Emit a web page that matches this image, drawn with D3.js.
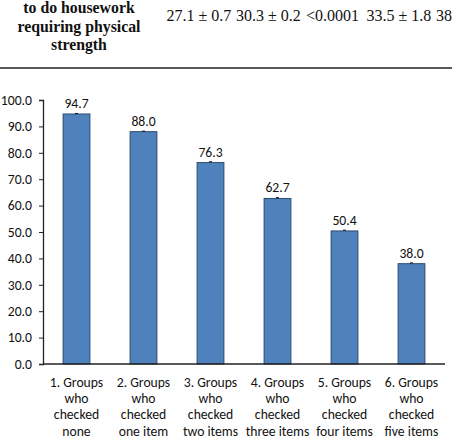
<!DOCTYPE html>
<html><head><meta charset="utf-8">
<script src="https://cdn.jsdelivr.net/npm/d3@7"></script>
<style>body{margin:0;background:#fff}svg{display:block}</style>
</head><body>
<svg id="c" width="452" height="446"></svg>
<script>
const categories = [
  ["1. Groups","who","checked","none"],
  ["2. Groups","who","checked","one item"],
  ["3. Groups","who","checked","two items"],
  ["4. Groups","who","checked","three items"],
  ["5. Groups","who","checked","four items"],
  ["6. Groups","who","checked","five items"]
];
const values = [94.7, 88.0, 76.3, 62.7, 50.4, 38.0];
const errors = [0.2, 0.2, 0.3, 0.3, 0.3, 0.3];
const yTicks = [0,10,20,30,40,50,60,70,80,90,100];
const headerLines = ["to do housework","requiring physical","strength"];
const headerValues = ["27.1 ± 0.7","30.3 ± 0.2","<0.0001","33.5 ± 1.8","38"];
const headerValueX = [166.5, 236, 306, 366.5, 436];

const svg = d3.select("#c");

function measure(txt, fam, size, weight){
  const t = svg.append("text").attr("font-family",fam).attr("font-size",size)
    .attr("font-weight",weight||"normal").text(txt);
  const w = t.node().getComputedTextLength(); t.remove(); return w;
}
function pick(cands, generic){
  const probe = "mmmwwwiiilll 0123456789 Groups";
  for (const c of cands){
    const a = measure(probe, `"${c}", monospace`, 40);
    const b = measure(probe, "monospace", 40);
    const a2 = measure(probe, `"${c}", sans-serif`, 40);
    const b2 = measure(probe, "sans-serif", 40);
    if (Math.abs(a-b)>0.5 || Math.abs(a2-b2)>0.5) return `"${c}", ${generic}`;
  }
  return generic;
}
const serifFam = pick(["Liberation Serif","Times New Roman","Tinos","Nimbus Roman","DejaVu Serif","Noto Serif"], "serif");
const sansFam = pick(["Carlito","Calibri","Lato","Open Sans"], "sans-serif");

const sFs = 100 * 53.5 / measure("1. Groups", sansFam, 100);
const hFs = Math.min(16, 100 * 123 / measure("requiring physical", serifFam, 100, "bold"));
const vFs = Math.min(16, 100 * 65 / measure("27.1 ± 0.7", serifFam, 100));

// table fragment at top
const hb = [13.3, 31.7, 49.5];
headerLines.forEach((t,i)=>{
  svg.append("text").attr("x",79).attr("y",hb[i]).attr("text-anchor","middle")
    .attr("font-family",serifFam).attr("font-weight","bold")
    .attr("font-size",hFs).attr("fill","#111").text(t);
});
headerValues.forEach((t,i)=>{
  svg.append("text").attr("x",headerValueX[i]).attr("y",21)
    .attr("font-family",serifFam).attr("font-size",vFs).attr("fill","#111").text(t);
});
svg.append("line").attr("x1",0).attr("x2",452).attr("y1",68).attr("y2",68)
  .attr("stroke","#222").attr("stroke-width",1.6);

// chart
const x = d3.scaleBand().domain(d3.range(categories.length)).range([43,445]).paddingInner(0.6).paddingOuter(0.3);
const y = d3.scaleLinear().domain([0,100]).range([364,100]);

const yAxis = svg.append("g").attr("transform","translate(43,0)")
  .call(d3.axisLeft(y).tickValues(yTicks).tickFormat(d3.format(".1f")).tickSize(4).tickPadding(7));
yAxis.select(".domain").attr("stroke","#222").attr("stroke-width",1.3);
yAxis.selectAll(".tick line").attr("stroke","#222");
yAxis.selectAll("text").attr("font-family",sansFam).attr("font-size",sFs).attr("fill","#111");

svg.selectAll("rect.bar").data(values).join("rect").attr("class","bar")
  .attr("x",(d,i)=>x(i)).attr("width",x.bandwidth())
  .attr("y",d=>y(d)).attr("height",d=>y(0)-y(d))
  .attr("fill","#4F81BD").attr("stroke","#2a4a6e").attr("stroke-width",1);

// error bars
svg.selectAll("line.err").data(values).join("line").attr("class","err")
  .attr("x1",(d,i)=>x(i)+x.bandwidth()/2-1.5).attr("x2",(d,i)=>x(i)+x.bandwidth()/2+1.5)
  .attr("y1",(d,i)=>y(d+errors[i])).attr("y2",(d,i)=>y(d+errors[i]))
  .attr("stroke","#111").attr("stroke-width",1);

svg.selectAll("text.val").data(values).join("text").attr("class","val")
  .attr("x",(d,i)=>x(i)+x.bandwidth()/2).attr("y",d=>y(d)-6)
  .attr("text-anchor","middle").attr("font-family",sansFam).attr("font-size",sFs)
  .attr("fill","#111").text(d=>d.toFixed(1));

// x axis line
svg.append("line").attr("x1",43).attr("x2",445).attr("y1",y(0)).attr("y2",y(0))
  .attr("stroke","#222").attr("stroke-width",1.3);

const lb = [386.5, 402.8, 419.1, 435.5];
categories.forEach((lines,i)=>{
  const t = svg.append("text").attr("text-anchor","middle").attr("font-family",sansFam)
    .attr("font-size",sFs).attr("fill","#111");
  lines.forEach((l,j)=>{
    t.append("tspan").attr("x",x(i)+x.bandwidth()/2).attr("y",lb[j]).text(l);
  });
});
</script>
</body></html>
